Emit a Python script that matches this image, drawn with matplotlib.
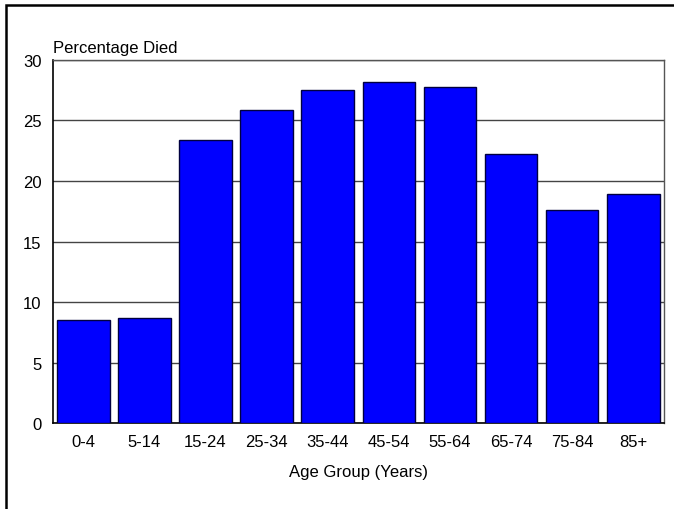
import matplotlib
matplotlib.use("Agg")
import matplotlib.pyplot as plt
from matplotlib.patches import Rectangle

age_groups = ["0-4", "5-14", "15-24", "25-34", "35-44", "45-54", "55-64", "65-74", "75-84", "85+"]
pct_died = [8.5, 8.7, 23.4, 25.9, 27.5, 28.2, 27.8, 22.2, 17.6, 18.9]
y_ticks = [0, 5, 10, 15, 20, 25, 30]

plt.rcParams["font.family"] = ["Liberation Sans", "DejaVu Sans"]
FS = 12

fig = plt.figure(figsize=(6.74, 5.10), dpi=100)
ax = fig.add_axes([0.0782, 0.1686, 0.9068, 0.7118])

x = range(len(age_groups))
ax.bar(x, pct_died, width=0.86, color="#0000ff", edgecolor="#000040",
       linewidth=1.0, zorder=3)

ax.set_xlim(-0.5, len(age_groups) - 0.5)
ax.set_ylim(0, 30)
ax.set_yticks(y_ticks)
ax.set_yticklabels([str(t) for t in y_ticks], fontsize=FS)
ax.set_xticks(list(x))
ax.set_xticklabels(age_groups, fontsize=FS)
ax.tick_params(axis="x", length=0, pad=8)
ax.tick_params(axis="y", length=0, pad=8)
ax.yaxis.grid(True, color="#444444", linewidth=1.0, zorder=0)
ax.set_axisbelow(True)
for side in ["left", "bottom"]:
    ax.spines[side].set_color("#000000")
    ax.spines[side].set_linewidth(1.2)
for side in ["top", "right"]:
    ax.spines[side].set_color("#555555")
    ax.spines[side].set_linewidth(1.0)

ax.set_xlabel("Age Group (Years)", fontsize=FS, labelpad=11)
fig.text(53 / 674, 1 - 48 / 510, "Percentage Died", fontsize=FS,
         ha="left", va="center")

# outer chart frame
fig.patches.append(Rectangle((6 / 674, -0.05), 1.2, 1 - 5.5 / 510 + 0.05,
                             transform=fig.transFigure, fill=False,
                             edgecolor="black", linewidth=1.8))

fig.savefig("out.png", dpi=100)
